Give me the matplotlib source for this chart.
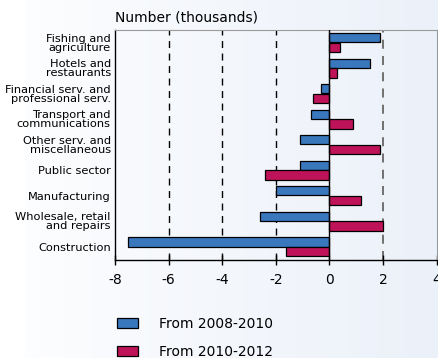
import numpy as np
import matplotlib.pyplot as plt
from matplotlib.patches import Patch

sectors = ["Fishing and\nagriculture", "Hotels and\nrestaurants",
           "Financial serv. and\nprofessional serv.", "Transport and\ncommunications",
           "Other serv. and\nmiscellaneous", "Public sector", "Manufacturing",
           "Wholesale, retail\nand repairs", "Construction"]
from_2008_2010 = [1.9, 1.5, -0.3, -0.7, -1.1, -1.1, -2.0, -2.6, -7.5]
from_2010_2012 = [0.4, 0.3, -0.6, 0.9, 1.9, -2.4, 1.2, 2.0, -1.6]
xticks = [-8, -6, -4, -2, 0, 2, 4]

blue = "#3a78be"
red = "#be1358"

fig = plt.figure(figsize=(4.38, 3.58), dpi=100)

# light gradient background, white strip on the far left
bg = fig.add_axes([0, 0, 1, 1], zorder=-10)
grad = np.linspace(0, 1, 438)
grad[:25] = 0
c0 = np.array([1.0, 1.0, 1.0])
c1 = np.array([0.925, 0.945, 0.978])
img = c0 + (c1 - c0) * np.clip(grad, 0, 1)[:, None] ** 0.8
bg.imshow(img[None, :, :], aspect="auto", extent=[0, 1, 0, 1])
bg.axis("off")

ax = fig.add_axes([0.2626, 0.274, 0.734, 0.642])
ax.patch.set_alpha(0)

y = np.arange(len(sectors))
h = 0.37
ax.barh(y - 0.19, from_2008_2010, height=h, color=blue, edgecolor="black",
        linewidth=0.9, zorder=3, label="From 2008-2010")
ax.barh(y + 0.19, from_2010_2012, height=h, color=red, edgecolor="black",
        linewidth=0.9, zorder=3, label="From 2010-2012")

for x in [-6, -4, -2]:
    ax.axvline(x, color="black", linestyle=(0, (5, 4)), linewidth=1, zorder=1)
ax.axvline(2, color="#666666", linestyle=(0, (5, 4)), linewidth=1.3, zorder=1)
ax.axvline(0, color="black", linewidth=1, zorder=4)

ax.set_xlim(-8, 4)
ax.set_ylim(8.52, -0.49)
ax.set_xticks(xticks)
ax.set_xticklabels([str(t) for t in xticks], fontsize=10)
ax.set_yticks(y)
ax.set_yticklabels(sectors, fontsize=8.2, linespacing=0.9)
ax.tick_params(axis="y", length=0, pad=3)
ax.tick_params(axis="x", direction="inout", length=7, width=1, pad=6)
for s in ["top", "right"]:
    ax.spines[s].set_color("#9a9a9a")
    ax.spines[s].set_linewidth(0.8)
for s in ["left", "bottom"]:
    ax.spines[s].set_color("black")
    ax.spines[s].set_linewidth(1)

fig.text(0.2626, 0.939, "Number (thousands)", fontsize=10, ha="left", va="baseline")

handles = [Patch(facecolor=blue, edgecolor="black", linewidth=0.9),
           Patch(facecolor=red, edgecolor="black", linewidth=0.9)]
fig.legend(handles, ["From 2008-2010", "From 2010-2012"], loc="upper left",
           bbox_to_anchor=(0.267, 0.1145), frameon=False, fontsize=10,
           handlelength=1.5, handleheight=0.72, labelspacing=1.0,
           handletextpad=1.5, borderaxespad=0, borderpad=0)

fig.savefig("out.png", dpi=100)
